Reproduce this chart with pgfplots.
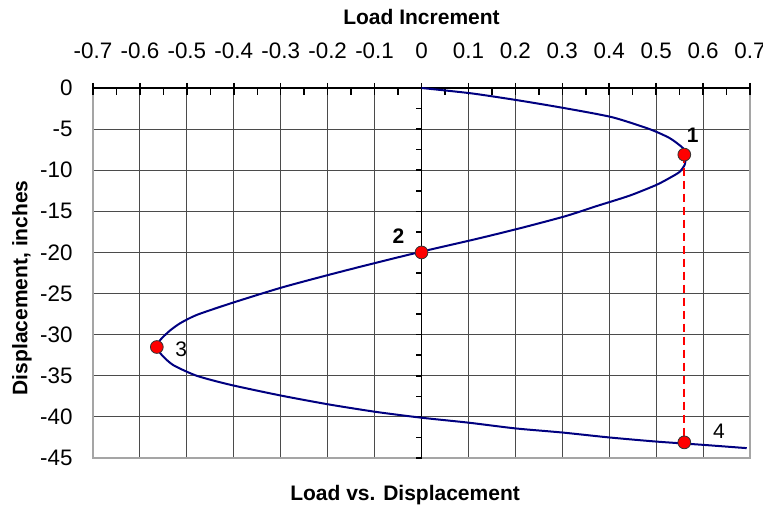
\documentclass[border=0pt]{standalone}
\usepackage{fontspec}
\setmainfont{Liberation Sans}
\usepackage{pgfplots}
\pgfplotsset{compat=1.18}
\usetikzlibrary{calc}
\definecolor{curve}{RGB}{0,0,128}
\definecolor{gridc}{RGB}{75,75,75}
\definecolor{framec}{RGB}{165,165,165}
\definecolor{ptred}{RGB}{255,0,0}

\begin{document}
\fontsize{10.5}{12.6}\selectfont
\begin{tikzpicture}
\begin{axis}[
    scale only axis,
    width=328.5pt, height=185pt,
    xmin=-0.7, xmax=0.7, ymin=-45, ymax=0,
    xtick={-0.7,-0.6,-0.5,-0.4,-0.3,-0.2,-0.1,0,0.1,0.2,0.3,0.4,0.5,0.6,0.7},
    xticklabels={-0.7,-0.6,-0.5,-0.4,-0.3,-0.2,-0.1,0,0.1,0.2,0.3,0.4,0.5,0.6,0.7},
    ytick={0,-5,-10,-15,-20,-25,-30,-35,-40,-45},
    yticklabels={0,-5,-10,-15,-20,-25,-30,-35,-40,-45},
    xticklabel pos=upper,
    major tick length=0pt,
    grid=major,
    major grid style={gridc, line width=0.5pt},
    axis line style={framec, line width=0.6pt},
    xticklabel style={yshift=11pt},
    yticklabel style={xshift=-6.5pt},
    tick label style={font=\fontsize{11.2}{13}\selectfont},
    clip=false,
]
% axis lines through the origin
\draw[black, line width=0.75pt] (axis cs:-0.7,0) -- (axis cs:0.7,0);
\draw[black, line width=0.75pt] (axis cs:0,0) -- (axis cs:0,-45);
\pgfplotsinvokeforeach{-0.7,-0.6,-0.5,-0.4,-0.3,-0.2,-0.1,0,0.1,0.2,0.3,0.4,0.5,0.6,0.7}{
  \draw[black, line width=0.75pt] ([yshift=2.5pt]axis cs:#1,0) -- ([yshift=-3.5pt]axis cs:#1,0);
}
\pgfplotsinvokeforeach{-0.65,-0.55,-0.45,-0.35,-0.25,-0.15,-0.05,0.05,0.15,0.25,0.35,0.45,0.55,0.65}{
  \draw[black, line width=0.75pt] (axis cs:#1,0) -- ([yshift=-3.5pt]axis cs:#1,0);
}
\pgfplotsinvokeforeach{-2.5,-5,-7.5,-10,-12.5,-15,-17.5,-20,-22.5,-25,-27.5,-30,-32.5,-35,-37.5,-40,-42.5,-45}{
  \draw[black, line width=0.75pt] (axis cs:0,#1) -- ([xshift=-3pt]axis cs:0,#1);
}

\addplot[curve, line width=1pt, smooth, tension=0.4] coordinates {
  (0,0) (0.106,-0.65) (0.206,-1.5) (0.306,-2.46) (0.406,-3.55)
  (0.486,-5.0) (0.529,-6.1) (0.557,-7.3) (0.563,-8.1) (0.561,-9.3)
  (0.550,-10.2) (0.53,-10.9) (0.50,-11.8) (0.443,-13.1) (0.371,-14.4)
  (0.306,-15.6) (0.207,-17.1) (0.114,-18.4) (0,-19.9) (-0.1,-21.3)
  (-0.196,-22.7) (-0.3,-24.3) (-0.407,-26.2) (-0.479,-27.6) (-0.514,-28.6)
  (-0.536,-29.5) (-0.556,-30.6) (-0.564,-31.5) (-0.553,-32.5) (-0.529,-33.7)
  (-0.479,-35.0) (-0.407,-36.1) (-0.3,-37.4) (-0.196,-38.5)
  (-0.096,-39.4) (0,-40.1) (0.1,-40.7) (0.2,-41.4) (0.3,-41.9)
  (0.4,-42.5) (0.5,-43.0) (0.6,-43.4) (0.693,-43.8)
};
\addplot[ptred, line width=1pt, dash pattern=on 4pt off 2.5pt] coordinates {
  (0.56,-8.1) (0.56,-43.1)
};
\addplot[only marks, mark=*, mark size=3.2pt,
  mark options={fill=ptred, draw=black!80, line width=0.4pt}] coordinates {
  (0.56,-8.1) (0,-20) (-0.564,-31.5) (0.56,-43.1)
};

\node[font=\bfseries] at (axis cs:0.578,-5.8) {1};
\node[font=\bfseries] at (axis cs:-0.049,-18) {2};
\node at (axis cs:-0.512,-31.8) {3};
\node at (axis cs:0.634,-41.8) {4};

\node[font=\bfseries] at ([yshift=35.5pt]rel axis cs:0.5,1) {Load Increment};
\node[font=\bfseries, rotate=90] at ([xshift=-35.5pt]rel axis cs:0,0.46) {Displacement, inches};
\node[font=\bfseries] at ([yshift=-18.5pt]rel axis cs:0.475,0) {Load vs. Displacement};

\coordinate (sw) at (rel axis cs:0,0);
\coordinate (ne) at (rel axis cs:1,1);
\end{axis}
\pgfresetboundingbox
\useasboundingbox ($(sw)+(-46.5pt,-26.5pt)$) rectangle ($(ne)+(6.5pt,44pt)$);
\end{tikzpicture}
\end{document}
